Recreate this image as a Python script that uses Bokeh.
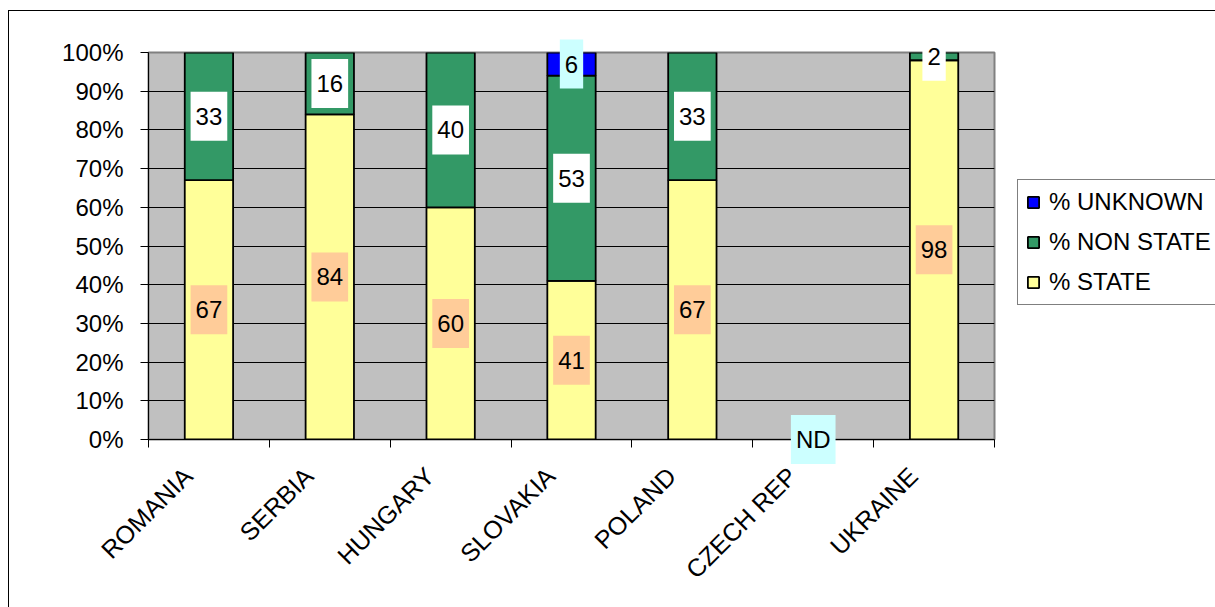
import math

from bokeh.core.properties import value
from bokeh.embed import file_html
from bokeh.models import (ColumnDataSource, CustomJSTickFormatter, FixedTicker, Legend,
                          LegendItem, PrintfTickFormatter, Range1d)
from bokeh.plotting import figure
from bokeh.resources import INLINE

# ---- data -------------------------------------------------------------
countries = ["ROMANIA", "SERBIA", "HUNGARY", "SLOVAKIA", "POLAND", "CZECH REP", "UKRAINE"]
state = [67, 84, 60, 41, 67, None, 98]        # % STATE
non_state = [33, 16, 40, 53, 33, None, 2]     # % NON STATE
unknown = [0, 0, 0, 6, 0, None, 0]            # % UNKNOWN
no_data_text = "ND"
y_ticks = [0, 10, 20, 30, 40, 50, 60, 70, 80, 90, 100]

series = ["state", "non_state", "unknown"]
series_names = {"state": "% STATE", "non_state": "% NON STATE", "unknown": "% UNKNOWN"}
bar_colors = {"state": "#FFFF99", "non_state": "#339966", "unknown": "#0000FF"}
label_bg = {"state": "#FFCC99", "non_state": "#FFFFFF", "unknown": "#CCFFFF"}

FONT = "Liberation Sans"
FS = "24px"
FS_PX = 24

# Arial-compatible advance widths (em) used to size the label boxes
ADV = {c: 0.556 for c in "0123456789"}
ADV.update({"N": 0.722, "D": 0.722})


def box_width(txt):
    return sum(ADV.get(c, 0.6) for c in txt) * FS_PX + 10


nan = float("nan")
xs = [i + 0.5 for i in range(len(countries))]
boundaries = list(range(len(countries) + 1))


def as_bar(vals):
    # missing or zero values are not drawn as bars
    return [nan if (v is None or v == 0) else v for v in vals]


source = ColumnDataSource(dict(
    x=xs,
    state=as_bar(state),
    non_state=as_bar(non_state),
    unknown=as_bar(unknown),
))

# ---- figure -----------------------------------------------------------
p = figure(
    x_range=Range1d(0, len(countries)), y_range=Range1d(0, 100),
    width=1207, height=597,
    frame_width=846, frame_height=387,
    min_border_left=139, min_border_right=222,
    min_border_top=41, min_border_bottom=169,
    output_backend="svg", toolbar_location=None, tools="",
)
p.margin = (10, 0, 0, 8)
p.styles = {"border-left": "1px solid #000000", "border-top": "1px solid #000000"}

p.background_fill_color = "#C0C0C0"
p.border_fill_color = "#FFFFFF"
p.outline_line_color = "#808080"
p.outline_line_width = 2

p.xgrid.visible = False
p.ygrid.ticker = FixedTicker(ticks=y_ticks)
p.ygrid.grid_line_color = "#000000"
p.ygrid.grid_line_width = 1

# y axis: percentages
yax = p.yaxis[0]
yax.ticker = FixedTicker(ticks=y_ticks)
yax.formatter = PrintfTickFormatter(format="%d%%")
yax.major_tick_out = 8
yax.major_tick_in = 0
yax.minor_tick_out = 0
yax.axis_line_color = "#000000"
yax.major_tick_line_color = "#000000"
yax.major_label_text_font = FONT
yax.major_label_text_font_size = FS
yax.major_label_text_color = "#000000"
yax.major_label_standoff = 17

# x axis: tick marks on the category boundaries, names drawn below
xax = p.xaxis[0]
xax.ticker = FixedTicker(ticks=boundaries)
xax.formatter = CustomJSTickFormatter(code="return ''")
xax.major_tick_out = 8
xax.major_tick_in = 0
xax.minor_tick_out = 0
xax.major_tick_line_color = "#000000"
xax.axis_line_color = "#000000"
xax.major_label_standoff = 0

# ---- stacked bars -----------------------------------------------------
bars = p.vbar_stack(
    series, x="x", width=0.40, source=source,
    color=[bar_colors[s] for s in series],
    line_color="#000000", line_width=1.8,
)

# ---- category names, slanted under each bar ---------------------------
names_src = ColumnDataSource(dict(x=xs, y=[0] * len(xs), text=countries))
p.text(x="x", y="y", text="text", source=names_src, angle=math.pi / 4,
       text_align="right", text_baseline="middle", x_offset=-21, y_offset=32,
       text_font=value(FONT), text_font_size="25px", text_color="#000000",
       level="annotation")

# ---- value labels -----------------------------------------------------
lx, ly, lt, lc, lw = [], [], [], [], []
for i, xi in enumerate(xs):
    bottom = 0
    for s, vals in (("state", state), ("non_state", non_state), ("unknown", unknown)):
        v = vals[i]
        if v is None:
            continue
        if v > 0:
            lx.append(xi)
            ly.append(bottom + v / 2)
            lt.append(str(v))
            lc.append(label_bg[s])
            lw.append(box_width(str(v)))
        bottom += v
    if state[i] is None:
        lx.append(xi)
        ly.append(0)
        lt.append(no_data_text)
        lc.append(label_bg["unknown"])
        lw.append(box_width(no_data_text))

lab = ColumnDataSource(dict(x=lx, y=ly, text=lt, bg=lc, w=lw))
p.rect(x="x", y="y", width="w", height=49, width_units="screen", height_units="screen",
       fill_color="bg", line_color=None, source=lab, level="annotation")
p.text(x="x", y="y", text="text", source=lab, text_align="center", text_baseline="middle",
       text_font=value(FONT), text_font_size=FS, text_color="#000000", level="annotation")

# ---- legend -----------------------------------------------------------
items = [LegendItem(label=series_names[s], renderers=[r])
         for s, r in zip(series, bars)][::-1]
legend = Legend(items=items, location=(23, 134))
legend.border_line_color = "#000000"
legend.border_line_width = 1
legend.background_fill_color = "#FFFFFF"
legend.background_fill_alpha = 1
legend.label_text_font = FONT
legend.label_text_font_size = FS
legend.label_text_color = "#000000"
legend.glyph_width = 14
legend.glyph_height = 14
legend.label_standoff = 9
legend.spacing = 12
legend.padding = 8
legend.margin = 0
p.add_layout(legend, "right")

open("out.html", "w").write(file_html(p, INLINE))
